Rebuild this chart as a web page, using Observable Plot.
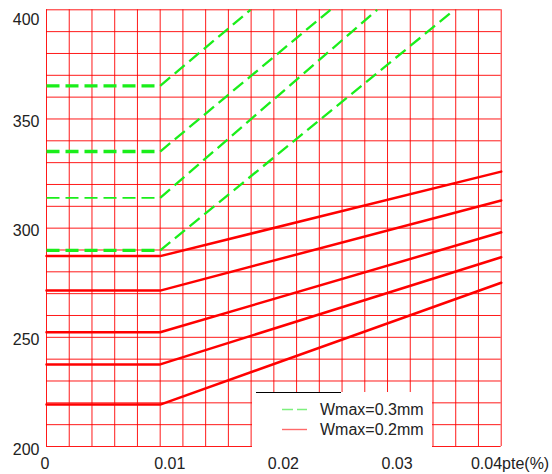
<!DOCTYPE html>
<html>
<head>
<meta charset="utf-8">
<script src="https://cdn.jsdelivr.net/npm/d3@7"></script>
<script src="https://cdn.jsdelivr.net/npm/@observablehq/plot@0.6"></script>
<style>
  html, body { margin: 0; padding: 0; background: white; }
</style>
</head>
<body>
<div id="chart"></div>
<script>
// ---- data ----
// Wmax = 0.3mm (green dashed): flat level up to 0.01, then rising to the top edge (400)
const greenLevels = [365.2, 335.1, 313.9, 289.8];
const greenTopX   = [0.01795, 0.02498, 0.02909, 0.03589];
const greenFlatWidth = [3.3, 3.3, 1.7, 3.3];
// Wmax = 0.2mm (red solid): flat level up to 0.01, then rising to 0.04
const redLevels = [287.2, 271.4, 252.3, 237.6, 219.2];
const redEnd    = [325.9, 312.7, 298.1, 286.7, 275.0];
const kneeX = 0.01;
const endX = 0.04;
const topY = 400;
// axis tick labels
const xTicks = [0, 0.01, 0.02, 0.03];
const xTickLabels = ["0", "0.01", "0.02", "0.03"];
const xLastLabel = "0.04pte(%)";
const yTicks = [200, 250, 300, 350];
const yTopTick = 400;
const legendLabels = ["Wmax=0.3mm", "Wmax=0.2mm"];

// ---- tables built from the arrays ----
const greenSegs = [];
greenLevels.forEach((lv, i) => {
  greenSegs.push({x1: 0, y1: lv, x2: kneeX, y2: lv, w: greenFlatWidth[i]});
  greenSegs.push({x1: kneeX, y1: lv, x2: greenTopX[i], y2: topY, w: 2.3});
});
const redPts = [];
redLevels.forEach((lv, i) => {
  redPts.push({s: i, x: 0, y: lv});
  redPts.push({s: i, x: kneeX, y: lv});
  redPts.push({s: i, x: endX, y: redEnd[i]});
});

const FONT = "Liberation Sans, Arial, sans-serif";
const TXT = "#222";

const chart = Plot.plot({
  width: 552,
  height: 474,
  marginLeft: 46,
  marginRight: 51.3,
  marginTop: 9.3,
  marginBottom: 28,
  style: {fontFamily: FONT, fontSize: "16px", background: "white", overflow: "visible"},
  x: {domain: [0, 0.04], axis: null},
  y: {domain: [200, 400], axis: null},
  marks: [
    Plot.gridX({ticks: 20, stroke: "#ff0000", strokeOpacity: 0.9, strokeWidth: 1}),
    Plot.gridY({ticks: 20, stroke: "#ff0000", strokeOpacity: 0.9, strokeWidth: 1}),
    Plot.line(redPts, {x: "x", y: "y", z: "s", stroke: "#ff0000", strokeWidth: 2.5, strokeLinejoin: "miter"}),
    Plot.link(greenSegs, {x1: "x1", y1: "y1", x2: "x2", y2: "y2", stroke: "#1aee1a",
      strokeWidth: "w", strokeDasharray: "13,6", curve: "linear"}),
    Plot.text(xTicks, {x: d => d, frameAnchor: "bottom", text: (d, i) => xTickLabels[i],
      lineAnchor: "top", textAnchor: "start", dy: 11, dx: -6, fill: TXT, fontSize: 16}),
    Plot.text([endX], {x: d => d, frameAnchor: "bottom", text: () => xLastLabel,
      lineAnchor: "top", textAnchor: "end", dy: 11, dx: 48, fill: TXT, fontSize: 16}),
    Plot.text(yTicks, {y: d => d, frameAnchor: "left", text: d => String(d),
      textAnchor: "end", dx: -7, dy: 3, fill: TXT, fontSize: 16}),
    Plot.text([yTopTick], {y: d => d, frameAnchor: "left", text: d => String(d),
      textAnchor: "end", dx: -7, dy: 10, fill: TXT, fontSize: 16})
  ]
});

// ---- legend box (drawn over the grid, lower middle) ----
const svg = d3.select(chart);
const lg = svg.append("g").attr("text-anchor", "start");
lg.append("rect").attr("x", 252).attr("y", 392).attr("width", 180).attr("height", 56).attr("fill", "white");
lg.append("line").attr("x1", 256).attr("x2", 341).attr("y1", 392.5).attr("y2", 392.5)
  .attr("stroke", "black").attr("stroke-width", 1);
lg.append("line").attr("x1", 282).attr("x2", 307).attr("y1", 409.5).attr("y2", 409.5)
  .attr("stroke", "#7ef07e").attr("stroke-width", 1.4).attr("stroke-dasharray", "11,4");
lg.append("line").attr("x1", 282).attr("x2", 307).attr("y1", 429.5).attr("y2", 429.5)
  .attr("stroke", "#ff6a6a").attr("stroke-width", 1.4);
[409.5, 429.5].forEach((yy, i) => {
  lg.append("text").attr("x", 320).attr("y", yy).attr("dy", "0.35em")
    .attr("text-anchor", "start")
    .attr("fill", TXT).attr("font-family", FONT).attr("font-size", 16)
    .text(legendLabels[i]);
});

document.getElementById("chart").appendChild(chart);
</script>
</body>
</html>
